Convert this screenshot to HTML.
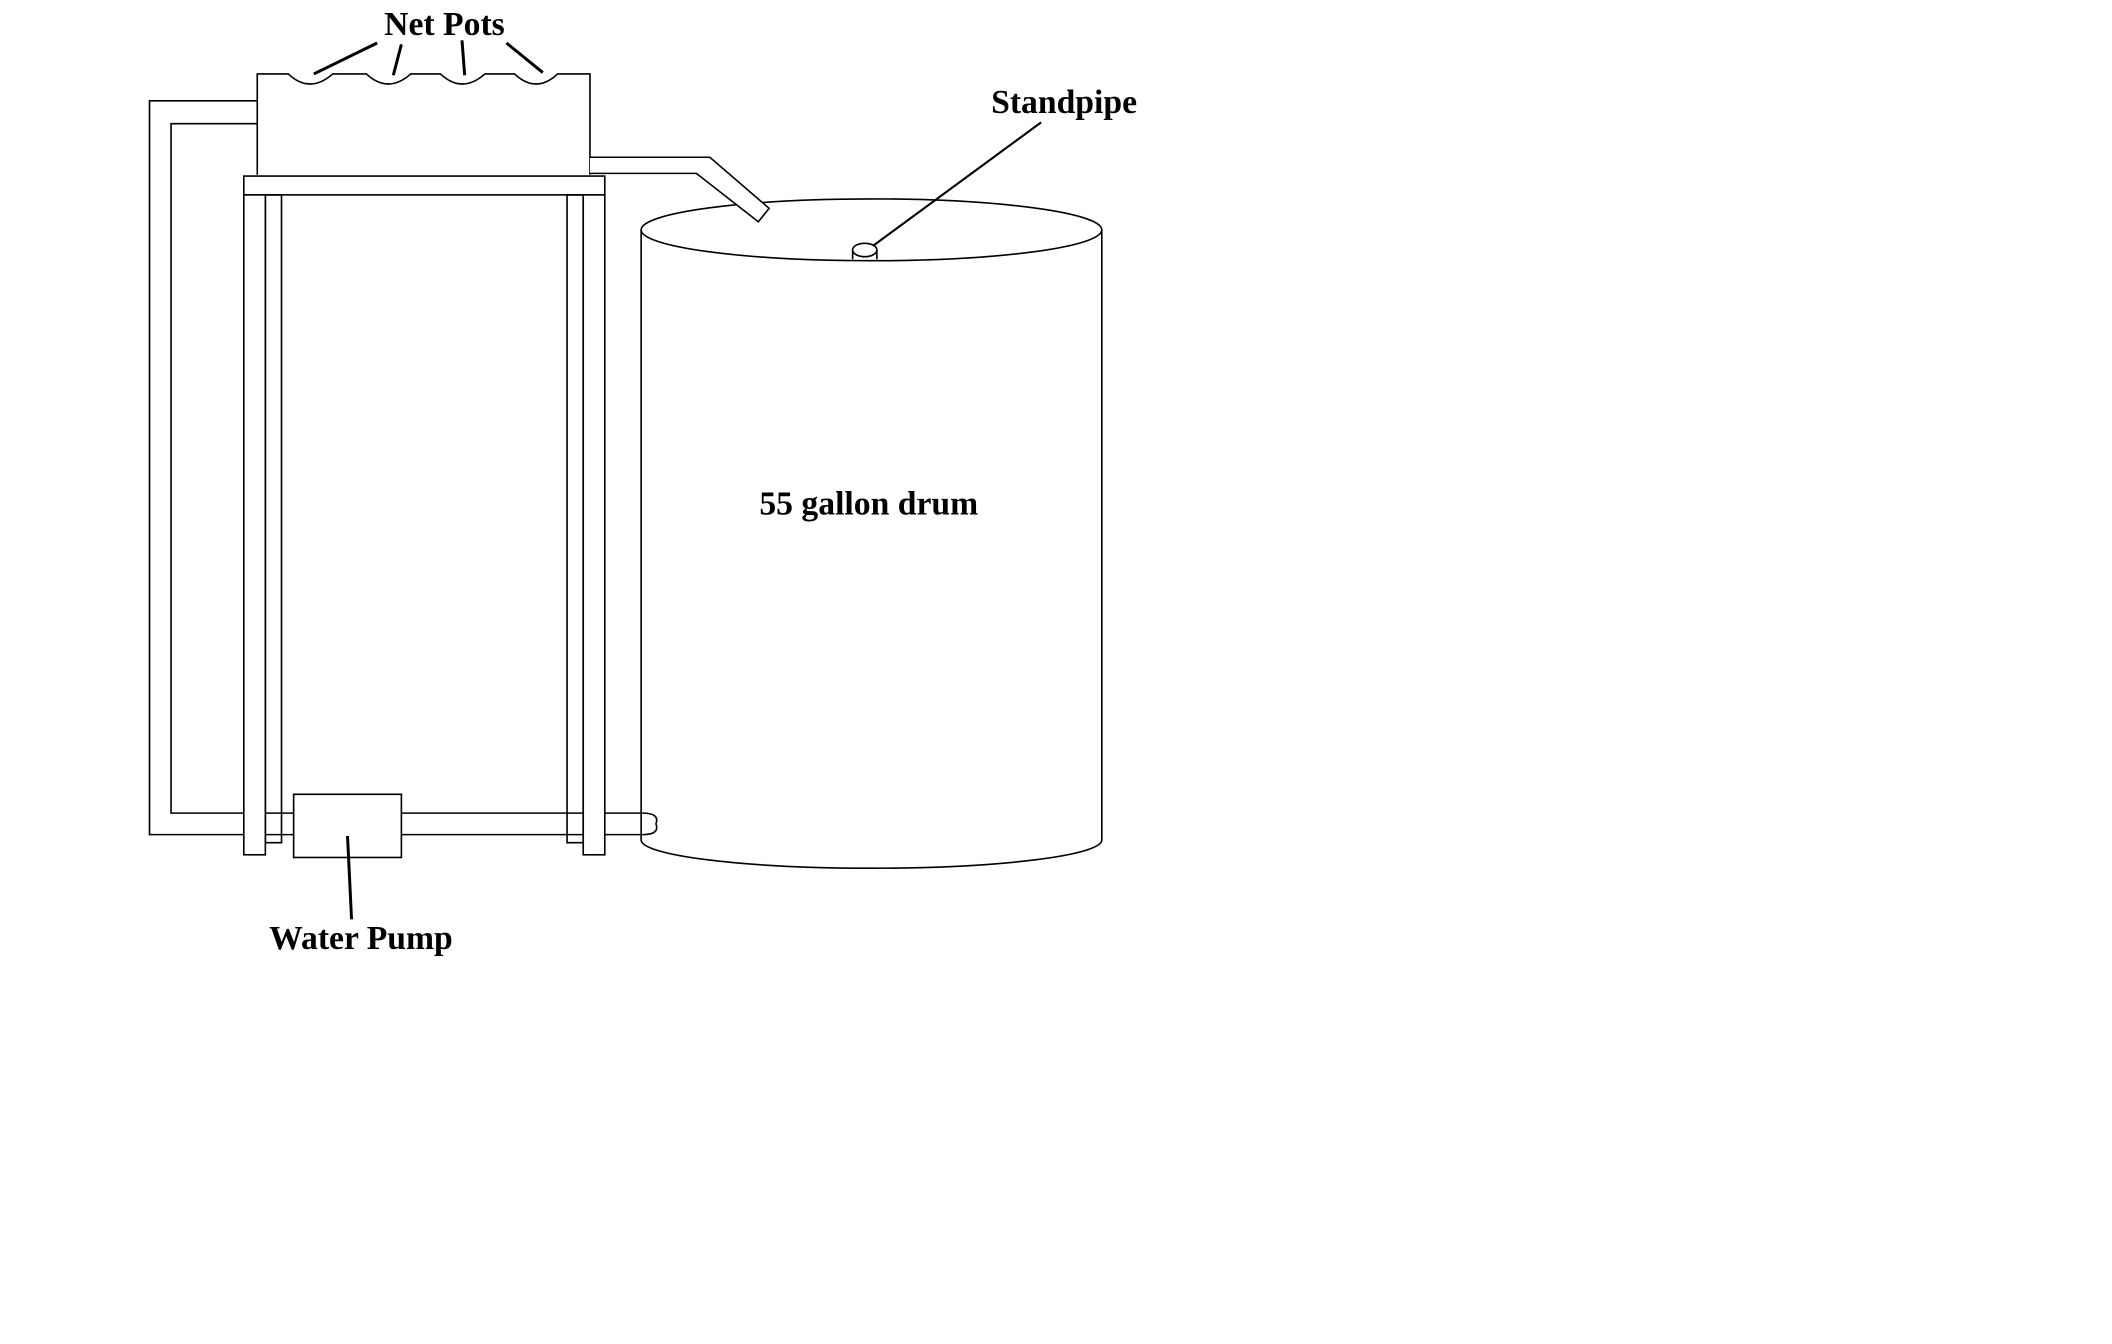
<!DOCTYPE html>
<html><head><meta charset="utf-8"><style>
html,body{margin:0;padding:0;background:#fff;}
svg{display:block;}
text{font-family:"Liberation Serif",serif;font-weight:bold;fill:#000;}
</style></head><body>
<svg width="2112" height="1344" viewBox="0 0 1568 1000" preserveAspectRatio="none" xmlns="http://www.w3.org/2000/svg">
<g fill="none" stroke="#000" stroke-width="1.2">
<path d="M191,130 L191,55 L214,55 Q230,70 247,55 L272,55 Q288,70 305,55 L327,55 Q343,70 360,55 L382,55 Q398,70 414,55 L438,55 L438,130" fill="#fff"/>
<path d="M191,75 L111,75 L111,621 L181,621"/>
<path d="M191,92 L127,92 L127,605 L181,605"/>
<rect x="181" y="131" width="268" height="14" fill="#fff"/>
<rect x="197" y="145" width="12" height="482"/>
<rect x="421" y="145" width="12" height="482"/>
<path d="M197,605 L218,605 M298,605 L477,605 M197,621 L218,621 M298,621 L477,621"/>
<path d="M477,605 Q490,605 487,613 Q490,621 477,621"/>
<rect x="181" y="145" width="16" height="491" fill="#fff"/>
<rect x="433" y="145" width="16" height="491" fill="#fff"/>
<rect x="218" y="591" width="80" height="47" fill="#fff"/>
<path d="M476,171 L476,625 M818,171 L818,625"/>
<path d="M476,625 A171,21 0 0 0 818,625"/>
<ellipse cx="647" cy="171" rx="171" ry="23" fill="#fff"/>
<path d="M438,117 L527,117 L571,155 L563,165 L517,129 L438,129" fill="#fff"/>
<path d="M633,186 L633,193 M651,186 L651,193"/>
<ellipse cx="642" cy="186" rx="9" ry="5" fill="#fff"/>
</g>
<g stroke="#000" stroke-width="2.2" fill="none">
<path d="M280,32 L233,55"/>
<path d="M298,33 L292,56"/>
<path d="M343,30 L345,56"/>
<path d="M376,32 L403,54"/>
<path d="M258,622 L261,684"/>
<path d="M773,91 L648,183" stroke-width="1.6"/>
</g>
<text x="330" y="26" font-size="25" text-anchor="middle">Net Pots</text>
<text x="790" y="84" font-size="25" text-anchor="middle">Standpipe</text>
<text x="645" y="383" font-size="25" text-anchor="middle">55 gallon drum</text>
<text x="268" y="706" font-size="25" text-anchor="middle">Water Pump</text>
</svg>
</body></html>
